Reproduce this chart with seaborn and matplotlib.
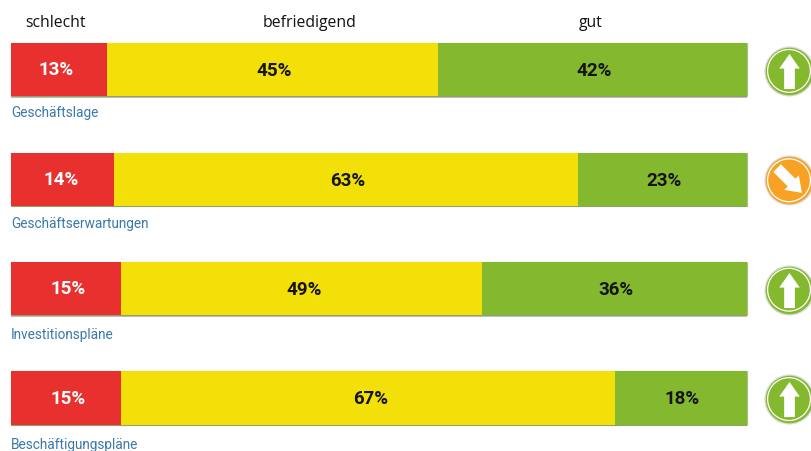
import numpy as np
import pandas as pd
import matplotlib
matplotlib.use("Agg")
import matplotlib.pyplot as plt
import matplotlib.patheffects as pe
from matplotlib.markers import MarkerStyle
from matplotlib.transforms import Affine2D
import seaborn as sns

categories = ["Geschäftslage", "Geschäftserwartungen", "Investitionspläne", "Beschäftigungspläne"]
schlecht = [13, 14, 15, 15]
befriedigend = [45, 63, 49, 67]
gut = [42, 23, 36, 18]
trend = ["up", "down", "up", "up"]
headers = ["schlecht", "befriedigend", "gut"]

RED, YELLOW, GREEN, ORANGE = "#e8302e", "#f4e009", "#84b92f", "#f7a224"
BLUE = "#3b78a9"

sns.set_theme(style="white")
plt.rcParams["font.family"] = ["Open Sans", "DejaVu Sans"]

W, H = 812, 452
fig = plt.figure(figsize=(W / 100, H / 100), dpi=100, facecolor="white")
ax = fig.add_axes([0, 0, 1, 1])

df = pd.DataFrame({"cat": categories, "s": schlecht, "b": befriedigend, "g": gut})
df["c1"] = df["s"]
df["c2"] = df["s"] + df["b"]
df["c3"] = df["c2"] + df["g"]

for col, colr in [("c3", GREEN), ("c2", YELLOW), ("c1", RED)]:
    sns.barplot(data=df, y="cat", x=col, color=colr, saturation=1, width=0.485,
                orient="h", order=categories, ax=ax, linewidth=0)

shadow = [pe.SimplePatchShadow(offset=(0.3, -1.0), shadow_rgbFace="#888888", alpha=0.5),
          pe.Stroke(linewidth=1.0, foreground="#00000022"), pe.Normal()]
for p in ax.patches[:len(categories)]:
    p.set_path_effects(shadow)
for p in ax.patches:
    p.set_zorder(2)
for p in ax.patches[:len(categories)]:
    p.set_zorder(1.5)

px = 7.36
ax.set_xlim(-11 / px, (W - 11) / px)
rowh = 109.4
cy = 70.8
ax.set_ylim((H - cy) / rowh, -cy / rowh)
ax.axis("off")

bar_font = dict(family=["Roboto", "DejaVu Sans"], fontweight="bold", fontsize=13.5,
                ha="center", va="center", zorder=5)
label_row = [0.385, 0.399, 0.417, 0.417]
red_nudge = [-0.4, -0.2, 0.24, 0.24]
for i in range(len(categories)):
    s, b, g = schlecht[i], befriedigend[i], gut[i]
    ax.text(s / 2 + red_nudge[i], i - 0.003, f"{s}%", color="white", **bar_font)
    ax.text(s + b / 2 + 0.3, i + 0.003, f"{b}%", color="#151515", **bar_font)
    ax.text(s + b + g / 2 + 0.2, i + 0.003, f"{g}%", color="#151515", **bar_font)
    ax.text(0, i + label_row[i], categories[i], color=BLUE, fontsize=9.85, ha="left", va="center",
            family=["Roboto", "DejaVu Sans"], zorder=5)

for name, hx in zip(headers, [6.0, 40.5, 78.8]):
    ax.text(hx, -0.435, name, color="#111111", fontsize=11.3, ha="center", va="center", zorder=5)

# trend icons
arrow = np.array([[0, 18], [10.5, 3], [5.5, 3], [5.5, -18], [-5.5, -18], [-5.5, 3], [-10.5, 3], [0, 18]], float)
icon_x = (789 - 11) / px
for i, t in enumerate(trend):
    colr = GREEN if t == "up" else ORANGE
    ax.scatter(icon_x, i + 0.01, s=1300, color="#77777744", linewidths=0, zorder=3)
    ax.scatter(icon_x, i + 0.01, s=1170, color=colr, linewidths=0, zorder=3.1)
    ax.scatter(icon_x, i + 0.01, s=950, facecolor="none", edgecolor="white", linewidths=0.9, zorder=3.2)
    angle = 0 if t == "up" else -135
    m = MarkerStyle(arrow, transform=Affine2D().rotate_deg(angle))
    ax.scatter(icon_x, i + 0.01, s=640, marker=m, color="white", linewidths=0, zorder=3.3)

fig.savefig("out.png", dpi=100, facecolor="white")
